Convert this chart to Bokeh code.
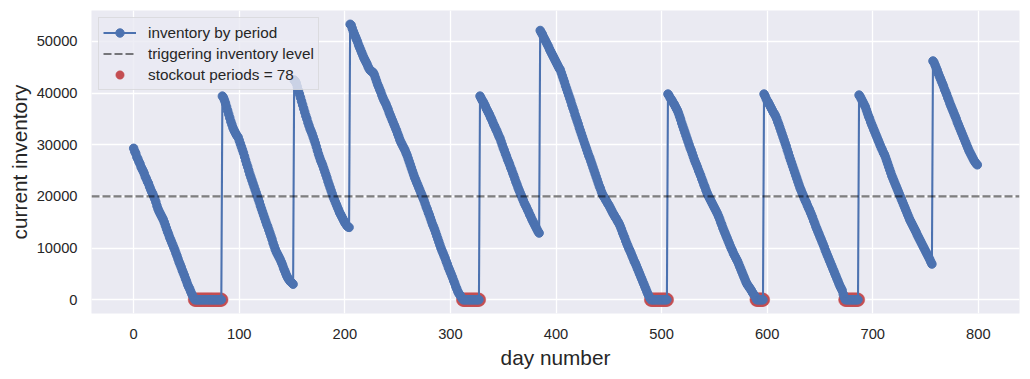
from bokeh.plotting import figure
from bokeh.models import (Range1d, FixedTicker, Span, Legend, LegendItem,
                          ColumnDataSource, BasicTickFormatter)
from bokeh.embed import file_html
from bokeh.resources import INLINE

# ---------------- data ----------------
cycle_1 = [29300, 28700, 28300, 27600, 27200, 26700, 26300, 25700, 25300, 24900,
           24400, 23800, 23400, 22900, 22500, 21900, 21400, 20900, 20500, 20000,
           19500, 18900, 18200, 17600, 17100, 16700, 16300, 15900, 15500, 15000,
           14400, 13800, 13200, 12700, 12100, 11600, 11100, 10600, 10100, 9600,
           9000, 8500, 7900, 7300, 6800, 6300, 5700, 5200, 4700, 4100,
           3600, 3000, 2500, 2100, 1600, 1100, 700, 300]
stockout_1 = [0, 0, 0, 0, 0, 0, 0, 0, 0, 0, 0, 0, 0, 0, 0, 0, 0, 0, 0, 0, 0, 0, 0, 0, 0, 0]
cycle_2 = [39400, 39100, 38600, 38000, 37300, 36600, 35900, 35200, 34500, 33900,
           33300, 32800, 32400, 32000, 31700, 31400, 30800, 30200, 29600, 29000,
           28400, 27700, 27000, 26300, 25700, 25000, 24300, 23700, 23100, 22500,
           21900, 21300, 20700, 20100, 19500, 18900, 18200, 17600, 17000, 16400,
           15800, 15200, 14600, 14100, 13500, 12900, 12300, 11700, 11000, 10400,
           9800, 9300, 8900, 8500, 8100, 7700, 7200, 6700, 6100, 5600,
           5100, 4600, 4200, 3900, 3600, 3400, 3200, 3000]
cycle_3 = [42500, 42300, 41900, 41200, 40500, 39800, 39100, 38400, 37700, 37000,
           36300, 35600, 35000, 34300, 33700, 33100, 32600, 32100, 31500, 30900,
           30300, 29600, 28900, 28200, 27600, 27000, 26500, 26000, 25400, 24800,
           24200, 23600, 22900, 22300, 21700, 21100, 20500, 19900, 19400, 18900,
           18400, 17900, 17400, 16900, 16500, 16100, 15700, 15300, 14900, 14600,
           14300, 14100, 14000]
cycle_4 = [53300, 53100, 52500, 51900, 51400, 50900, 50400, 49900, 49300, 48800,
           48300, 47800, 47300, 46800, 46400, 46000, 45600, 45100, 44700, 44400,
           44200, 44100, 43900, 43500, 42900, 42300, 41700, 41200, 40700, 40200,
           39600, 39100, 38600, 38200, 37800, 37300, 36800, 36200, 35700, 35200,
           34700, 34200, 33700, 33200, 32700, 32100, 31600, 31000, 30500, 30100,
           29700, 29300, 28900, 28400, 27900, 27300, 26700, 26100, 25500, 24900,
           24300, 23700, 23200, 22700, 22200, 21700, 21200, 20700, 20200, 19700,
           19200, 18600, 18000, 17500, 16900, 16400, 15800, 15200, 14600, 14100,
           13600, 13000, 12400, 11800, 11200, 10600, 10000, 9500, 9000, 8500,
           8000, 7400, 6900, 6300, 5800, 5300, 4800, 4300, 3700, 3200,
           2600, 2100, 1600, 1200, 900, 600, 300]
stockout_2 = [0, 0, 0, 0, 0, 0, 0, 0, 0, 0, 0, 0, 0, 0, 0, 0]
cycle_5 = [39400, 39000, 38600, 38300, 37900, 37500, 37000, 36600, 36200, 35800,
           35300, 34900, 34400, 33900, 33500, 33000, 32600, 32100, 31600, 31200,
           30600, 30000, 29400, 28900, 28300, 27800, 27200, 26700, 26200, 25600,
           25100, 24500, 24000, 23400, 22800, 22300, 21700, 21200, 20700, 20200,
           19700, 19200, 18700, 18300, 17900, 17400, 17000, 16500, 16100, 15600,
           15200, 14800, 14400, 14000, 13600, 13200, 12900]
cycle_6 = [52100, 51700, 51400, 50900, 50500, 50100, 49700, 49300, 48900, 48400,
           48000, 47600, 47200, 46800, 46400, 46000, 45600, 45200, 44800, 44500,
           43900, 43300, 42700, 42100, 41400, 40800, 40200, 39600, 39000, 38400,
           37700, 37100, 36500, 35800, 35200, 34600, 34000, 33300, 32700, 32100,
           31500, 30900, 30300, 29700, 29100, 28500, 27900, 27400, 26800, 26200,
           25600, 25000, 24400, 23800, 23200, 22600, 22000, 21500, 20900, 20400,
           20000, 19700, 19300, 19000, 18600, 18300, 17900, 17500, 17100, 16700,
           16400, 16000, 15700, 15300, 15000, 14600, 14100, 13600, 13000, 12500,
           12000, 11400, 10900, 10400, 9900, 9500, 9000, 8500, 8000, 7500,
           7100, 6600, 6100, 5600, 5100, 4600, 4100, 3600, 3100, 2600,
           2100, 1600, 1100, 700, 300]
stockout_3 = [0, 0, 0, 0, 0, 0, 0, 0, 0, 0, 0, 0, 0, 0, 0, 0]
cycle_7 = [39800, 39500, 39100, 38800, 38500, 38100, 37800, 37400, 37000, 36600,
           36100, 35500, 34900, 34200, 33600, 33000, 32400, 31800, 31200, 30600,
           30000, 29400, 28900, 28300, 27700, 27100, 26600, 26100, 25600, 25000,
           24500, 24000, 23400, 22900, 22300, 21800, 21200, 20700, 20200, 19800,
           19400, 19000, 18600, 18200, 17800, 17400, 17000, 16600, 16100, 15600,
           15000, 14500, 13900, 13400, 12900, 12400, 11900, 11400, 10900, 10400,
           9900, 9500, 9000, 8600, 8200, 7800, 7400, 6900, 6400, 5900,
           5400, 4900, 4400, 3900, 3400, 3000, 2700, 2400, 2100, 1800,
           1400, 1100, 800, 500]
stockout_4 = [0, 0, 0, 0, 0, 0, 0]
cycle_8 = [39800, 39400, 38900, 38500, 38200, 37800, 37400, 37000, 36600, 36200,
           35900, 35500, 35000, 34400, 33900, 33300, 32700, 32100, 31500, 30900,
           30300, 29700, 29000, 28400, 27700, 27100, 26500, 25900, 25300, 24700,
           24100, 23500, 22900, 22300, 21700, 21200, 20700, 20200, 19700, 19200,
           18800, 18300, 17800, 17400, 16900, 16400, 15900, 15300, 14800, 14200,
           13700, 13200, 12700, 12200, 11700, 11200, 10700, 10200, 9600, 9100,
           8600, 8100, 7600, 7100, 6600, 6100, 5600, 5100, 4600, 4100,
           3600, 3100, 2600, 2200, 1800, 1100, 500]
stockout_5 = [0, 0, 0, 0, 0, 0, 0, 0, 0, 0, 0, 0, 0]
cycle_9 = [39600, 39300, 38900, 38500, 38100, 37700, 37300, 36700, 36100, 35500,
           35000, 34400, 33900, 33400, 32900, 32400, 31900, 31400, 30900, 30400,
           29900, 29400, 29000, 28500, 28100, 27600, 27000, 26400, 25800, 25200,
           24600, 24000, 23500, 23000, 22500, 22000, 21500, 21000, 20500, 20000,
           19500, 19000, 18500, 18000, 17500, 17000, 16500, 16000, 15500, 15100,
           14700, 14300, 13900, 13500, 13100, 12600, 12200, 11800, 11400, 11000,
           10600, 10200, 9800, 9400, 9000, 8600, 8200, 7800, 7300, 6900]
cycle_10 = [46200, 45900, 45400, 44900, 44400, 43800, 43300, 42800, 42300, 41800,
            41300, 40700, 40200, 39700, 39100, 38600, 38000, 37500, 37000, 36500,
            36000, 35500, 35000, 34400, 33900, 33400, 32900, 32400, 31900, 31400,
            30900, 30400, 29900, 29400, 28900, 28500, 28100, 27700, 27300, 26900,
            26600, 26300, 26100]

trigger_level = 20000
x_ticks = [0, 100, 200, 300, 400, 500, 600, 700, 800]
y_ticks = [0, 10000, 20000, 30000, 40000, 50000]

inventory = (cycle_1 + stockout_1 + cycle_2 + cycle_3 + cycle_4 + stockout_2 +
             cycle_5 + cycle_6 + stockout_3 + cycle_7 + stockout_4 + cycle_8 +
             stockout_5 + cycle_9 + cycle_10)
days = list(range(len(inventory)))
stock_days = [d for d, v in zip(days, inventory) if v == 0]
stock_vals = [v for v in inventory if v == 0]

# ---------------- styling ----------------
FONT = "Liberation Sans"
TXT = "#262626"
BLUE = "#4C72B0"
RED = "#C44E52"
BG = "#EAEAF2"

xpad = 0.05 * (days[-1] - days[0])
ypad = 0.05 * (max(inventory) - min(inventory))

p = figure(width=1022, height=371, output_backend="svg", toolbar_location=None,
           x_range=Range1d(days[0] - xpad, days[-1] + xpad),
           y_range=Range1d(min(inventory) - ypad, max(inventory) + ypad),
           min_border_left=91, min_border_right=3, min_border_top=10,
           min_border_bottom=55)
p.background_fill_color = BG
p.border_fill_color = "white"
p.outline_line_color = None

for ax in (p.xaxis[0], p.yaxis[0]):
    ax.axis_line_color = None
    ax.major_tick_line_color = None
    ax.minor_tick_line_color = None
    ax.major_tick_out = 0
    ax.major_tick_in = 0
    ax.minor_tick_out = 0
    ax.minor_tick_in = 0
    ax.major_label_text_font = FONT
    ax.major_label_text_font_size = "14.7px"
    ax.major_label_text_color = TXT
    ax.axis_label_text_font = FONT
    ax.axis_label_text_font_size = "20.8px"
    ax.axis_label_text_font_style = "normal"
    ax.axis_label_text_color = TXT
    ax.formatter = BasicTickFormatter(use_scientific=False)

p.xaxis.ticker = FixedTicker(ticks=x_ticks)
p.yaxis.ticker = FixedTicker(ticks=y_ticks)
p.xaxis.axis_label = "day number"
p.yaxis.axis_label = "current inventory"
p.xaxis.major_label_standoff = 15
p.xaxis.axis_label_standoff = 4
p.yaxis.major_label_standoff = 14
p.yaxis.axis_label_standoff = 3

p.xgrid.grid_line_color = "white"
p.ygrid.grid_line_color = "white"
p.xgrid.grid_line_width = 1.3
p.ygrid.grid_line_width = 1.3

src = ColumnDataSource(dict(day=days, inv=inventory))
stk = ColumnDataSource(dict(day=stock_days, inv=stock_vals))

r_red = p.scatter("day", "inv", source=stk, size=13.5, fill_color=RED,
                  line_color=RED, line_width=0.5)
r_line = p.line("day", "inv", source=src, line_color=BLUE, line_width=2.1)
r_pts = p.scatter("day", "inv", source=src, size=8.5, fill_color=BLUE,
                  line_color=BLUE, line_width=1)

span = Span(location=trigger_level, dimension="width", line_color="black",
            line_alpha=0.5, line_width=2.1, line_dash="8 3")
p.add_layout(span)
# single-point line: draws nothing in the plot, only provides the legend glyph
r_dash = p.line(x=[days[0]], y=[trigger_level], line_color="black", line_alpha=0.5,
                line_width=2.1, line_dash="8 3")

legend = Legend(items=[
    LegendItem(label="inventory by period", renderers=[r_line, r_pts]),
    LegendItem(label="triggering inventory level", renderers=[r_dash]),
    LegendItem(label="stockout periods = %d" % len(stock_days), renderers=[r_red]),
], location="top_left")
legend.margin = 7
legend.padding = 4
legend.spacing = 0
legend.label_height = 21
legend.glyph_height = 21
legend.glyph_width = 33
legend.label_standoff = 12
legend.label_text_font = FONT
legend.label_text_font_size = "15.3px"
legend.label_text_color = TXT
legend.background_fill_color = BG
legend.background_fill_alpha = 0.8
legend.border_line_color = "#CCCCCC"
legend.border_line_width = 1
p.add_layout(legend)

open("out.html", "w").write(file_html(p, INLINE))
